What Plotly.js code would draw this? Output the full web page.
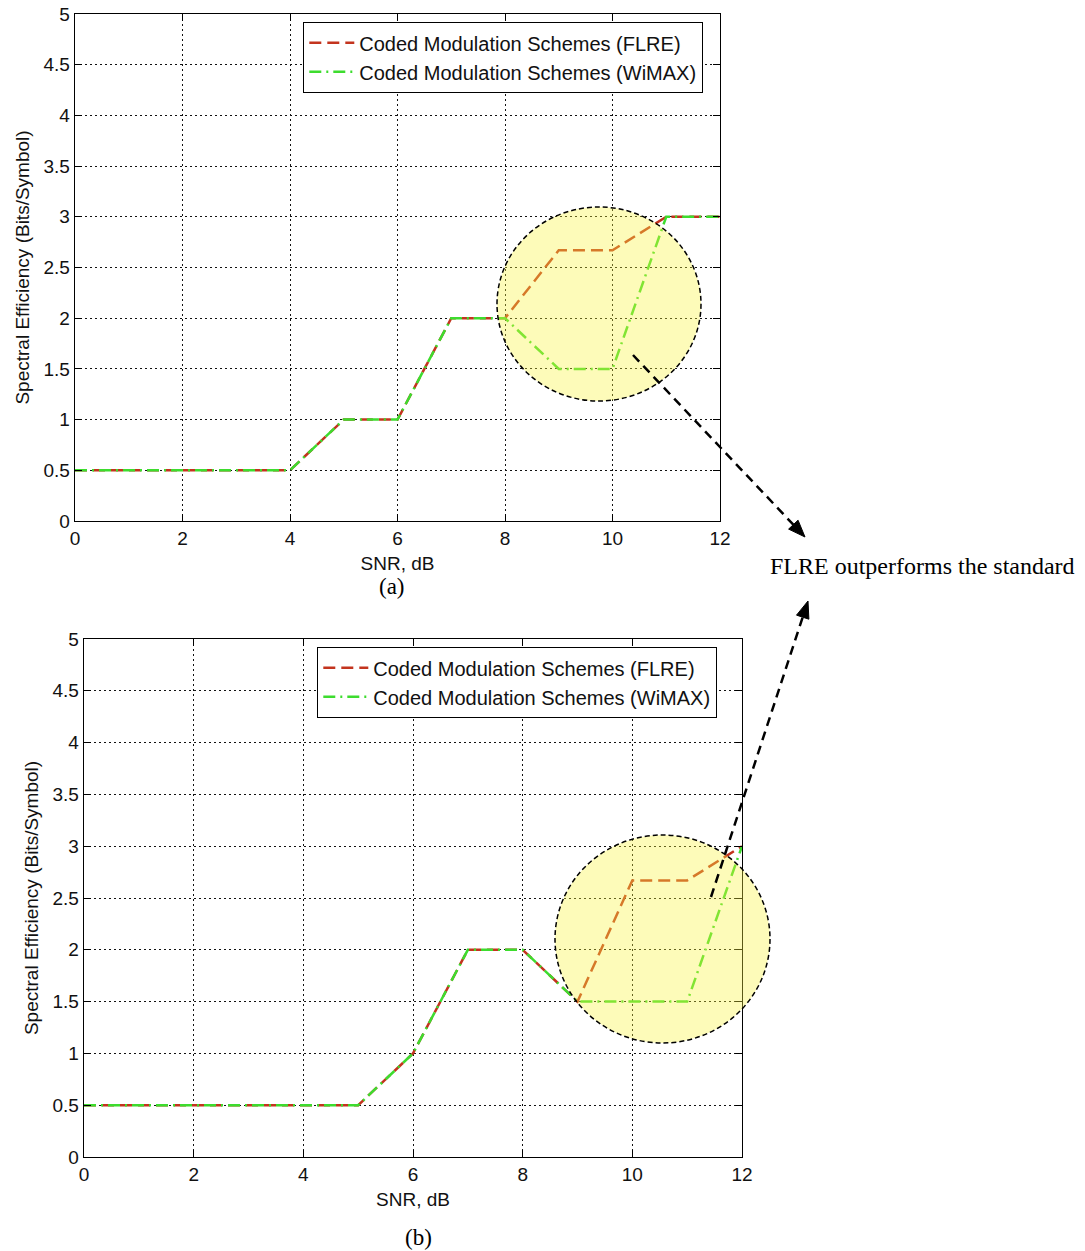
<!DOCTYPE html>
<html>
<head>
<meta charset="utf-8">
<script src="https://cdn.plot.ly/plotly-3.0.1.min.js"></script>
<style>html,body{margin:0;padding:0;background:#fff;}#chart{width:1085px;height:1251px;}</style>
</head>
<body>
<div id="chart"></div>
<script>
// ---- data ----
const snr = [0, 1, 2, 3, 4, 5, 6, 7, 8, 9, 10, 11, 12];
const flreA  = [0.5, 0.5, 0.5, 0.5, 0.5, 1, 1, 2, 2, 2.67, 2.67, 3, 3];
const wimaxA = [0.5, 0.5, 0.5, 0.5, 0.5, 1, 1, 2, 2, 1.5, 1.5, 3, 3];
const flreB  = [0.5, 0.5, 0.5, 0.5, 0.5, 0.5, 1, 2, 2, 1.5, 2.67, 2.67, 3];
const wimaxB = [0.5, 0.5, 0.5, 0.5, 0.5, 0.5, 1, 2, 2, 1.5, 1.5, 1.5, 3];
const seriesNames = ['Coded Modulation Schemes (FLRE)', 'Coded Modulation Schemes (WiMAX)'];
const xTicks = [0, 2, 4, 6, 8, 10, 12];
const yTicks = [0, 0.5, 1, 1.5, 2, 2.5, 3, 3.5, 4, 4.5, 5];
const yTickText = ['0', '0.5', '1', '1.5', '2', '2.5', '3', '3.5', '4', '4.5', '5'];
const xTitle = 'SNR, dB';
const yTitle = 'Spectral Efficiency (Bits/Symbol)';
const noteText = 'FLRE outperforms the standard';

// ---- layout helpers ----
const W = 1085, H = 1251;
const P = x => x / W;
const Q = y => 1 - y / H;
const sans = 'Liberation Sans, Arial, sans-serif';
const serif = 'Liberation Serif, Times New Roman, serif';
const redC = '#c3341e', greenC = '#3ddc2e';

function trace(x, y, i, xa, ya, lg) {
  return {
    x: x, y: y, type: 'scatter', mode: 'lines', name: seriesNames[i],
    xaxis: xa, yaxis: ya, legend: lg,
    line: i === 0 ? {color: redC, width: 2.5, dash: '12px,6px'}
                  : {color: greenC, width: 2.5, dash: '12px,5px,2px,5px'}
  };
}

const data = [
  trace(snr, flreA, 0, 'x', 'y', 'legend'),
  trace(snr, wimaxA, 1, 'x', 'y', 'legend'),
  trace(snr, flreB, 0, 'x2', 'y2', 'legend2'),
  trace(snr, wimaxB, 1, 'x2', 'y2', 'legend2')
];

function xAxis(dom, anchor) {
  return {
    domain: dom, anchor: anchor, range: [0, 12], tickvals: xTicks,
    showgrid: true, gridcolor: '#111', griddash: '1.5px,3.5px', gridwidth: 1,
    showline: true, linecolor: '#000', linewidth: 1.3, mirror: 'ticks',
    ticks: 'inside', ticklen: 7, tickcolor: '#000', zeroline: false,
    tickfont: {family: sans, size: 19, color: '#111'},
    title: {text: xTitle, font: {family: sans, size: 19, color: '#111'}, standoff: 8},
    automargin: false
  };
}
function yAxis(dom, anchor) {
  return {
    domain: dom, anchor: anchor, range: [0, 5], tickvals: yTicks, ticktext: yTickText,
    showgrid: true, gridcolor: '#111', griddash: '1.5px,3.5px', gridwidth: 1,
    showline: true, linecolor: '#000', linewidth: 1.3, mirror: 'ticks',
    ticks: 'inside', ticklen: 7, tickcolor: '#000', zeroline: false,
    tickfont: {family: sans, size: 19, color: '#111'},
    title: {text: yTitle, font: {family: sans, size: 19, color: '#111'}, standoff: 8},
    automargin: false
  };
}

function legendAt(x, y) {
  return {
    x: P(x), y: Q(y), xanchor: 'left', yanchor: 'top', xref: 'paper', yref: 'paper',
    bgcolor: '#fff', bordercolor: '#000', borderwidth: 1.3,
    font: {family: sans, size: 20, color: '#111'}, itemwidth: 45, tracegroupgap: 0
  };
}

// arrow helper (decorations in paper coords)
function arrow(x0, y0, x1, y1) {
  const dx = x1 - x0, dy = y1 - y0, L = Math.hypot(dx, dy);
  const ux = dx / L, uy = dy / L, hl = 17, hw = 6.5;
  const bx = x1 - ux * hl, by = y1 - uy * hl;
  const c1x = bx - uy * hw, c1y = by + ux * hw, c2x = bx + uy * hw, c2y = by - ux * hw;
  return [
    {type: 'line', xref: 'paper', yref: 'paper', x0: P(x0), y0: Q(y0), x1: P(bx), y1: Q(by),
     line: {color: '#000', width: 2.5, dash: '9px,6px'}, layer: 'above'},
    {type: 'path', xref: 'paper', yref: 'paper',
     path: `M${P(x1)},${Q(y1)} L${P(c1x)},${Q(c1y)} L${P(c2x)},${Q(c2y)} Z`,
     fillcolor: '#000', line: {color: '#000', width: 1}, layer: 'above'}
  ];
}

const circleStyle = {fillcolor: 'rgba(250,245,60,0.36)', line: {color: '#000', width: 1.5, dash: '5px,3px'}, layer: 'above'};

const shapes = [
  Object.assign({type: 'circle', xref: 'paper', yref: 'paper', x0: P(497), x1: P(701), y0: Q(401), y1: Q(207)}, circleStyle),
  Object.assign({type: 'circle', xref: 'paper', yref: 'paper', x0: P(555), x1: P(770), y0: Q(1043), y1: Q(835)}, circleStyle),
  ...arrow(633, 355, 805, 537),
  ...arrow(711, 897, 808, 601)
];

const annotations = [
  {text: '(a)', x: P(392), y: Q(586), xref: 'paper', yref: 'paper', xanchor: 'center', yanchor: 'middle', showarrow: false,
   font: {family: serif, size: 23, color: '#000'}},
  {text: '(b)', x: P(418), y: Q(1237), xref: 'paper', yref: 'paper', xanchor: 'center', yanchor: 'middle', showarrow: false,
   font: {family: serif, size: 23, color: '#000'}},
  {text: noteText, x: P(922), y: Q(566), xref: 'paper', yref: 'paper', xanchor: 'center', yanchor: 'middle', showarrow: false,
   font: {family: serif, size: 24, color: '#000'}}
];

const layout = {
  width: W, height: H,
  margin: {l: 0, r: 0, t: 0, b: 0},
  paper_bgcolor: '#fff', plot_bgcolor: '#fff',
  showlegend: true,
  xaxis: xAxis([P(75), P(720)], 'y'),
  yaxis: yAxis([Q(521), Q(14)], 'x'),
  xaxis2: xAxis([P(84), P(742)], 'y2'),
  yaxis2: yAxis([Q(1157), Q(639)], 'x2'),
  legend: legendAt(303, 22),
  legend2: legendAt(317, 647),
  shapes: shapes,
  annotations: annotations
};

Plotly.newPlot('chart', data, layout, {displayModeBar: false, staticPlot: true});
</script>
</body>
</html>
